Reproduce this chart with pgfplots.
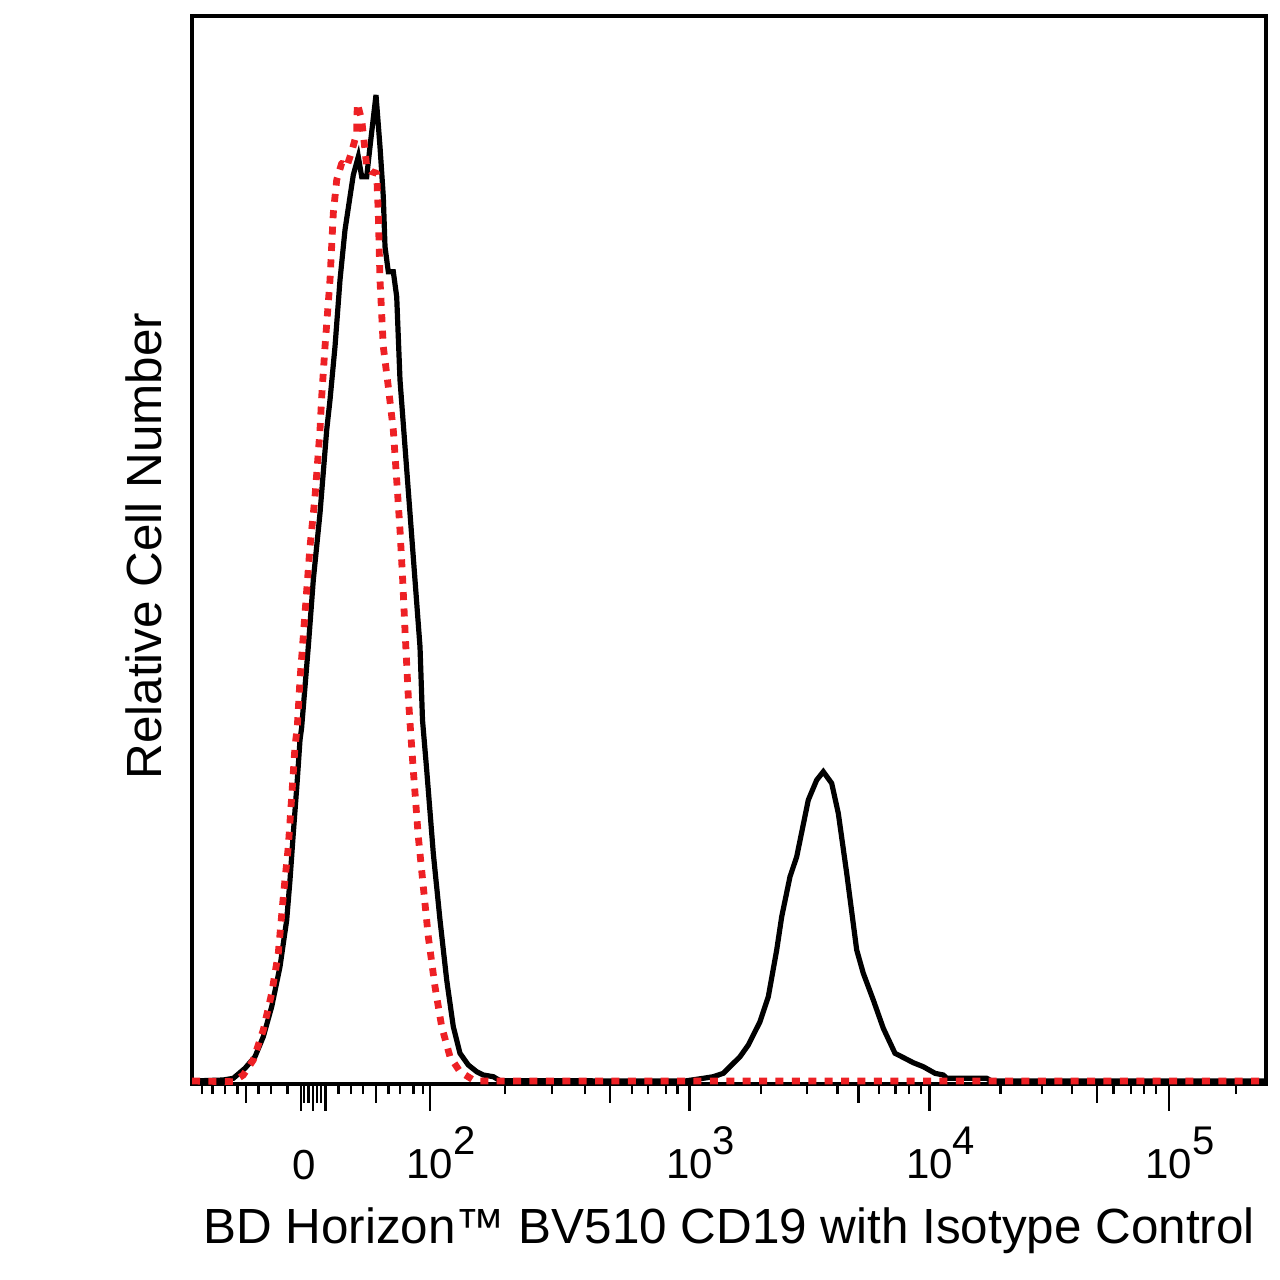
\documentclass[border=0pt]{standalone}
\usepackage{fontspec}
\setmainfont{Liberation Sans}
\usepackage{pgfplots}
\pgfplotsset{compat=1.18}
\definecolor{isored}{RGB}{237,32,36}
% exponent hung to the right of a centred "10"
\newcommand{\ex}[1]{\mbox{10}\rlap{\raisebox{12pt}{\fontsize{20}{20}\selectfont #1}}}

\begin{document}
\begin{tikzpicture}
\useasboundingbox (0,0) rectangle (640pt,640pt);
\begin{axis}[
    at={(96pt,98pt)}, anchor=south west,
    scale only axis,
    width=537pt, height=534pt,
    xmin=192, xmax=1266,
    ymin=0, ymax=1068,
    axis line style={line width=1.6pt},
    ytick=\empty,
    xtick pos=left,
    tick align=outside,
    major tick length=13.5pt,
    minor tick length=5pt,
    every tick/.style={black, line width=1.2pt},
    xtick={300.7,312.7,325.3,430,689.6,929.4,1168.7},
    xticklabels={,,,\ex{2},\ex{3},\ex{4},\ex{5}},
    minor xtick={191.7,201.7,212.3,225,237.3,258.3,270.7,287.3,338.3,350.7,362.7,388.3,400,413.3,422.9,
        505,552,585,632,648,666,677.5,
        761,807,837.6,878.7,895.3,909,920.9,
        1000.4,1042.2,1071.8,1113.6,1131,1144,1155.8,1235.7},
    extra x ticks={245.7,304,308.3,316.7,321,375.7,610,858.3,1097},
    extra x tick labels={,0,,,,,,,},
    extra x tick style={major tick length=9.5pt, xticklabel style={yshift=-15.5pt}},
    xticklabel style={font=\fontsize{21}{21}\selectfont, yshift=-4.5pt},
    xlabel={BD Horizon™ BV510 CD19 with Isotype Control},
    ylabel={Relative Cell Number},
    label style={font=\fontsize{24.7}{24.7}\selectfont},
    xlabel style={at={(axis description cs:0.5,-0.1489)}, anchor=base},
    ylabel style={at={(axis description cs:-0.02886,0.5037)}, anchor=base},
  ]

% stained sample
\addplot[black, line width=2.6pt, line join=miter] coordinates {
  (192,3) (223.3,4) (233.3,5.7) (245,15.7) (255,27.3) (263.3,47.3) (271.7,77.3)
  (280,117.3) (286.7,164) (290,204) (293.3,250.7) (297.3,304) (300,344) (301.6,356)
  (308.3,437.3) (313.3,504) (320,570.7) (326.7,654) (330,684) (335,737.3) (340,804)
  (345,854) (350,887.3) (353.3,909) (358.3,927.3) (361.7,907.3) (366.7,907.3)
  (370,937.3) (376,989) (380,937.3) (383.3,887.3) (385,837.3) (388.3,812.3)
  (393.3,812.3) (396.7,787.3) (400,704) (405,637.3) (410,570.7) (415,504)
  (420,437.3) (422.5,364) (426.7,314) (433.3,230.7) (440,164) (446.7,104)
  (453.3,57.3) (460,30.7) (468.3,19) (476.7,12.3) (483.3,9) (493.3,7.3) (500,3.3)
  (685,3) (703.3,5.7) (713.3,7.3) (723.3,10.7) (740,27.3) (748.3,39) (760,62.3)
  (768.3,87.3) (776.7,134) (781.7,167.3) (790,207.3) (796.7,227.3) (808.3,284)
  (816.7,304) (823.3,312.3) (831.7,300.7) (838.3,270.7) (846.7,210.7) (856.7,134)
  (863.3,110.7) (873.3,84) (883.3,55.7) (895,30.7) (901.7,27.3) (913.3,21.3)
  (923.3,17.3) (935,10.7) (943.3,9) (946.7,5.7) (986.7,5.7) (991.7,3) (1266,3)
};

% isotype control
\addplot[isored, line width=3.4pt, line join=round, dash pattern=on 4pt off 4.2pt] coordinates {
  (192,3) (233.3,2.3) (243.3,9) (253.3,24) (263.3,54) (271.7,90.7) (278.3,130.7)
  (283.3,187.3) (288.3,237.3) (291.7,287.3) (295,337.3) (297.3,357.3) (300,404)
  (305,470.7) (310,537.3) (315,587.3) (320,654) (321.7,687.3) (325,737.3) (330,804)
  (333.3,870.7) (336.7,904) (341.7,920.7) (346.7,917.3) (351.7,932.3) (356.7,950.7)
  (357.3,980.7) (361.7,964) (365,934) (366.7,917.3) (371.7,912.3) (376.7,910.7)
  (378.3,870.7) (380,804) (383.3,737.3) (388.3,697.3) (393.3,654) (396.7,604)
  (400,554) (402.7,504) (405,454) (408.3,387.3) (410.5,354) (413.3,314)
  (418.3,247.3) (423.3,197.3) (428.3,147.3) (435,97.3) (441.7,57.3) (450,27.3)
  (460,12.3) (473.3,4) (480,3) (1266,3)
};

\end{axis}
\end{tikzpicture}
\end{document}
